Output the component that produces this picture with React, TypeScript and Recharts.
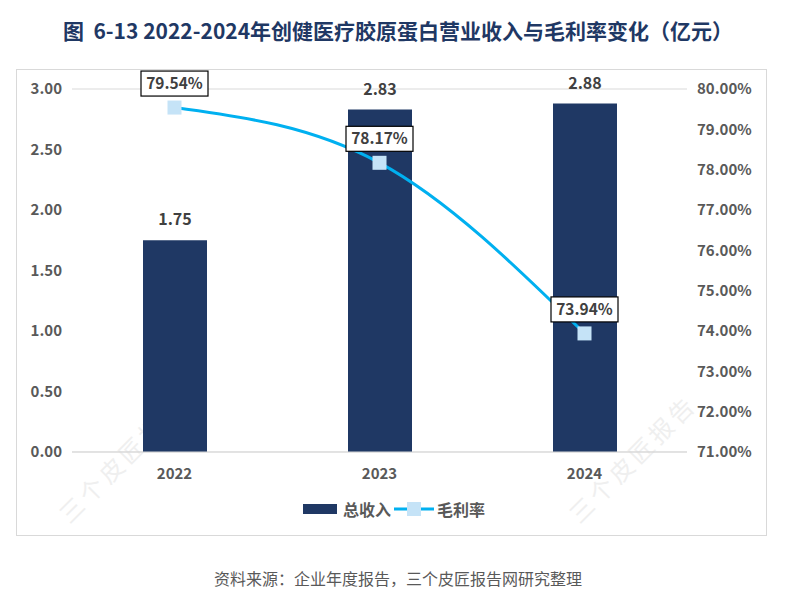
import React from "react";
import { ComposedChart, Bar, Line, XAxis, YAxis, CartesianGrid, LabelList } from "recharts";

const years = ["2022", "2023", "2024"];
const revenue = [1.75, 2.83, 2.88];
const grossMargin = [79.54, 78.17, 73.94];
const leftTicks = [0, 0.5, 1, 1.5, 2, 2.5, 3];
const rightTicks = [71, 72, 73, 74, 75, 76, 77, 78, 79, 80];

const data = years.map((y, i) => ({ year: y, revenue: revenue[i], margin: grossMargin[i] }));

const FONT = '"Microsoft YaHei", "Noto Sans CJK SC", "Noto Sans", sans-serif';
const NAVY = "#1F3864";
const LINE = "#00B0F0";
const MARK = "#C5E3F7";
const GRAY = "#595959";

const BarLabel = (props: any) => {
  const { x, y, width, value } = props;
  return (
    <text x={x + width / 2} y={y - 15} textAnchor="middle" fontFamily={FONT} fontWeight={700} fontSize={16} fill="#404040">
      {Number(value).toFixed(2)}
    </text>
  );
};

const LineLabel = (props: any) => {
  const { x, y, value } = props;
  const w = 67;
  const h = 25;
  const cy = y - 24;
  return (
    <g>
      <rect x={x - w / 2} y={cy - h / 2} width={w} height={h} fill="#fff" stroke="#000" strokeWidth={1.2} />
      <text x={x} y={cy + 5.5} textAnchor="middle" fontFamily={FONT} fontWeight={700} fontSize={15.5} fill="#404040">
        {Number(value).toFixed(2)}%
      </text>
    </g>
  );
};

const SquareDot = (props: any) => {
  const { cx, cy } = props;
  return <rect x={cx - 7} y={cy - 7} width={14} height={14} fill={MARK} />;
};

const tickStyle = { fontFamily: FONT, fontWeight: 700, fontSize: 15, fill: GRAY };

const Watermark = ({ left, top }: { left: number; top: number }) => (
  <div
    style={{
      position: "absolute",
      left,
      top,
      transform: "rotate(-45deg)",
      transformOrigin: "left top",
      color: "#efefef",
      fontFamily: FONT,
      fontSize: 24,
      whiteSpace: "nowrap",
      letterSpacing: 4,
      pointerEvents: "none",
    }}
  >
    三个皮匠报告
  </div>
);

export default function App() {
  return (
    <div style={{ position: "absolute", left: 0, top: 0, width: 796, height: 605, background: "#fff", fontFamily: FONT }}>
      <div
        style={{
          position: "absolute",
          left: 0,
          top: 15,
          width: 796,
          textAlign: "center",
          fontSize: 21,
          fontWeight: 700,
          color: NAVY,
          whiteSpace: "pre",
        }}
      >
        {"图  6-13 2022-2024年创健医疗胶原蛋白营业收入与毛利率变化（亿元）"}
      </div>
      <div style={{ position: "absolute", left: 16, top: 69, width: 751, height: 467, border: "1px solid #d9d9d9", boxSizing: "border-box" }} />
      <Watermark left={50} top={505} />
      <Watermark left={560} top={505} />
      <div style={{ position: "absolute", left: 0, top: 0 }}>
        <ComposedChart width={796} height={605} data={data} margin={{ top: 89, right: 19, left: 12, bottom: 123 }}>
          <CartesianGrid vertical={false} stroke="#d9d9d9" />
          <XAxis dataKey="year" axisLine={{ stroke: "#d9d9d9" }} tickLine={false} tick={tickStyle} tickMargin={10} height={30} />
          <YAxis
            yAxisId="left"
            orientation="left"
            width={60}
            domain={[0, 3]}
            ticks={leftTicks}
            tickFormatter={(v: number) => v.toFixed(2)}
            axisLine={false}
            tickLine={false}
            tick={tickStyle}
            tickMargin={4}
          />
          <YAxis
            yAxisId="right"
            orientation="right"
            width={90}
            domain={[71, 80]}
            ticks={rightTicks}
            tickFormatter={(v: number) => v.toFixed(2) + "%"}
            axisLine={false}
            tickLine={false}
            tick={{ ...tickStyle, textAnchor: "start" }}
            tickMargin={4}
          />
          <Bar yAxisId="left" dataKey="revenue" fill={NAVY} barSize={64} isAnimationActive={false}>
            <LabelList dataKey="revenue" content={BarLabel} />
          </Bar>
          <Line
            yAxisId="right"
            type="monotone"
            dataKey="margin"
            stroke={LINE}
            strokeWidth={3}
            dot={<SquareDot />}
            activeDot={false}
            isAnimationActive={false}
          >
            <LabelList dataKey="margin" content={LineLabel} />
          </Line>
        </ComposedChart>
      </div>
      <div style={{ position: "absolute", left: 303, top: 497, height: 24, display: "flex", alignItems: "center", fontSize: 16, fontWeight: 700, color: GRAY }}>
        <div style={{ width: 34, height: 10, background: NAVY, marginRight: 6 }} />
        <span>总收入</span>
        <svg width={40} height={14} style={{ margin: "0 3px 0 3px" }}>
          <line x1={0} y1={7} x2={40} y2={7} stroke={LINE} strokeWidth={3} />
          <rect x={13} y={0} width={14} height={14} fill={MARK} />
        </svg>
        <span>毛利率</span>
      </div>
      <div style={{ position: "absolute", left: 0, top: 566, width: 796, textAlign: "center", fontSize: 16, color: GRAY }}>
        资料来源：企业年度报告，三个皮匠报告网研究整理
      </div>
    </div>
  );
}
